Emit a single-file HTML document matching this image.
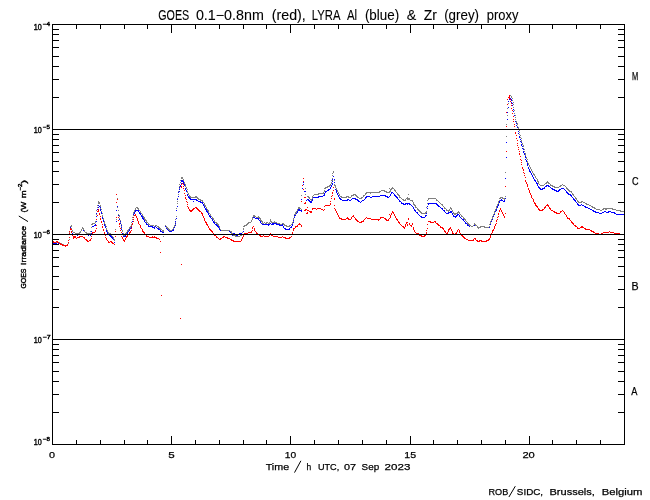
<!DOCTYPE html>
<html><head><meta charset="utf-8"><title>GOES / LYRA proxy</title>
<style>
html,body{margin:0;padding:0;background:#fff;}
body{width:650px;height:500px;overflow:hidden;font-family:"Liberation Sans",sans-serif;}
svg{display:block;}
text{font-family:"Liberation Sans",sans-serif;fill:#000;}
</style></head><body>
<svg width="650" height="500" viewBox="0 0 650 500">
<rect x="0" y="0" width="650" height="500" fill="#ffffff"/>
<path shape-rendering="crispEdges" fill="#0000ff" d="M510 98h1v1h-1zM509 99h3v1h-3zM511 100h1v1h-1zM508 101h1v1h-1zM511 102h1v1h-1zM512 103h1v1h-1zM512 105h1v1h-1zM508 107h1v1h-1zM513 107h1v1h-1zM513 109h1v1h-1zM513 111h1v1h-1zM507 112h1v1h-1zM514 113h1v1h-1zM514 115h1v1h-1zM515 117h1v1h-1zM507 119h1v1h-1zM515 119h1v1h-1zM515 121h1v1h-1zM516 123h1v1h-1zM516 125h1v1h-1zM517 126h1v1h-1zM517 127h1v1h-1zM517 129h1v1h-1zM518 131h1v1h-1zM518 133h1v1h-1zM519 134h1v1h-1zM519 136h1v1h-1zM519 137h1v1h-1zM520 139h1v1h-1zM520 141h1v1h-1zM506 142h1v1h-1zM521 142h1v1h-1zM521 144h1v1h-1zM521 145h1v1h-1zM522 146h1v1h-1zM522 148h1v1h-1zM523 149h1v1h-1zM523 151h1v1h-1zM523 152h1v1h-1zM524 153h1v1h-1zM524 154h1v1h-1zM525 156h1v1h-1zM506 157h1v1h-1zM525 157h1v1h-1zM525 159h1v1h-1zM526 160h1v1h-1zM526 161h1v1h-1zM527 163h1v1h-1zM527 164h1v1h-1zM527 165h1v1h-1zM528 167h1v1h-1zM528 168h1v1h-1zM529 169h1v1h-1zM529 170h1v1h-1zM529 171h2v1h-2zM530 172h1v1h-1zM531 173h1v1h-1zM531 174h1v1h-1zM532 175h1v1h-1zM333 176h1v1h-1zM532 176h1v1h-1zM533 177h1v1h-1zM505 178h1v1h-1zM533 178h1v1h-1zM332 179h1v1h-1zM334 179h1v1h-1zM534 179h1v1h-1zM181 180h2v1h-2zM534 180h2v1h-2zM181 181h3v1h-3zM332 181h1v1h-1zM535 181h1v1h-1zM183 182h1v1h-1zM303 182h1v1h-1zM334 182h1v1h-1zM536 182h1v1h-1zM181 183h1v1h-1zM183 183h1v1h-1zM332 183h1v1h-1zM536 183h2v1h-2zM184 184h1v1h-1zM303 184h1v1h-1zM332 184h1v1h-1zM334 184h1v1h-1zM537 184h1v1h-1zM180 185h1v1h-1zM184 185h1v1h-1zM331 185h1v1h-1zM334 185h1v1h-1zM537 185h1v1h-1zM546 185h3v1h-3zM180 186h1v1h-1zM185 186h1v1h-1zM331 186h1v1h-1zM538 186h1v1h-1zM545 186h2v1h-2zM548 186h2v1h-2zM179 187h1v1h-1zM330 187h1v1h-1zM335 187h1v1h-1zM538 187h2v1h-2zM544 187h1v1h-1zM550 187h1v1h-1zM185 188h1v1h-1zM302 188h1v1h-1zM330 188h1v1h-1zM539 188h2v1h-2zM542 188h3v1h-3zM551 188h2v1h-2zM561 188h3v1h-3zM179 189h1v1h-1zM185 189h1v1h-1zM328 189h2v1h-2zM335 189h1v1h-1zM540 189h3v1h-3zM552 189h3v1h-3zM559 189h2v1h-2zM564 189h1v1h-1zM186 190h1v1h-1zM327 190h2v1h-2zM336 190h1v1h-1zM554 190h3v1h-3zM558 190h2v1h-2zM565 190h1v1h-1zM179 191h1v1h-1zM186 191h1v1h-1zM304 191h2v1h-2zM325 191h2v1h-2zM336 191h1v1h-1zM556 191h3v1h-3zM566 191h1v1h-1zM178 192h1v1h-1zM187 192h1v1h-1zM325 192h1v1h-1zM336 192h1v1h-1zM391 192h2v1h-2zM566 192h2v1h-2zM324 193h1v1h-1zM337 193h1v1h-1zM391 193h1v1h-1zM393 193h1v1h-1zM567 193h2v1h-2zM187 194h1v1h-1zM324 194h1v1h-1zM337 194h1v1h-1zM390 194h1v1h-1zM394 194h1v1h-1zM568 194h3v1h-3zM187 195h1v1h-1zM323 195h2v1h-2zM338 195h1v1h-1zM380 195h6v1h-6zM390 195h1v1h-1zM394 195h2v1h-2zM570 195h2v1h-2zM178 196h1v1h-1zM188 196h1v1h-1zM318 196h5v1h-5zM338 196h1v1h-1zM366 196h4v1h-4zM372 196h8v1h-8zM385 196h3v1h-3zM389 196h1v1h-1zM395 196h2v1h-2zM571 196h1v1h-1zM188 197h2v1h-2zM305 197h1v1h-1zM313 197h6v1h-6zM339 197h1v1h-1zM365 197h2v1h-2zM370 197h2v1h-2zM387 197h2v1h-2zM396 197h2v1h-2zM572 197h1v1h-1zM189 198h2v1h-2zM312 198h1v1h-1zM339 198h2v1h-2zM352 198h4v1h-4zM365 198h1v1h-1zM397 198h1v1h-1zM505 198h1v1h-1zM573 198h1v1h-1zM177 199h1v1h-1zM190 199h7v1h-7zM301 199h1v1h-1zM307 199h2v1h-2zM312 199h1v1h-1zM340 199h2v1h-2zM347 199h2v1h-2zM351 199h1v1h-1zM355 199h3v1h-3zM364 199h1v1h-1zM398 199h1v1h-1zM501 199h1v1h-1zM504 199h1v1h-1zM573 199h2v1h-2zM196 200h2v1h-2zM306 200h1v1h-1zM308 200h2v1h-2zM312 200h1v1h-1zM342 200h6v1h-6zM349 200h2v1h-2zM357 200h2v1h-2zM362 200h2v1h-2zM399 200h1v1h-1zM500 200h3v1h-3zM504 200h1v1h-1zM574 200h2v1h-2zM193 201h1v1h-1zM198 201h3v1h-3zM309 201h3v1h-3zM358 201h2v1h-2zM361 201h1v1h-1zM399 201h2v1h-2zM499 201h1v1h-1zM503 201h2v1h-2zM575 201h1v1h-1zM200 202h3v1h-3zM310 202h2v1h-2zM360 202h1v1h-1zM401 202h1v1h-1zM499 202h1v1h-1zM576 202h1v1h-1zM177 203h1v1h-1zM202 203h1v1h-1zM401 203h3v1h-3zM405 203h5v1h-5zM428 203h9v1h-9zM498 203h1v1h-1zM577 203h1v1h-1zM203 204h1v1h-1zM403 204h3v1h-3zM407 204h1v1h-1zM409 204h2v1h-2zM428 204h1v1h-1zM436 204h2v1h-2zM498 204h1v1h-1zM577 204h2v1h-2zM581 204h1v1h-1zM98 205h1v1h-1zM203 205h1v1h-1zM411 205h1v1h-1zM437 205h2v1h-2zM498 205h1v1h-1zM578 205h3v1h-3zM582 205h2v1h-2zM99 206h1v1h-1zM117 206h1v1h-1zM177 206h1v1h-1zM204 206h1v1h-1zM412 206h1v1h-1zM427 206h1v1h-1zM438 206h2v1h-2zM497 206h1v1h-1zM584 206h2v1h-2zM98 207h1v1h-1zM100 207h1v1h-1zM204 207h1v1h-1zM413 207h1v1h-1zM440 207h1v1h-1zM497 207h1v1h-1zM585 207h3v1h-3zM205 208h1v1h-1zM413 208h1v1h-1zM427 208h1v1h-1zM441 208h2v1h-2zM496 208h1v1h-1zM588 208h2v1h-2zM97 209h1v1h-1zM100 209h1v1h-1zM205 209h2v1h-2zM298 209h2v1h-2zM414 209h1v1h-1zM442 209h1v1h-1zM496 209h1v1h-1zM590 209h2v1h-2zM100 210h1v1h-1zM116 210h1v1h-1zM135 210h4v1h-4zM176 210h1v1h-1zM206 210h1v1h-1zM298 210h4v1h-4zM414 210h2v1h-2zM443 210h2v1h-2zM496 210h1v1h-1zM592 210h2v1h-2zM97 211h1v1h-1zM135 211h1v1h-1zM138 211h1v1h-1zM206 211h2v1h-2zM297 211h1v1h-1zM301 211h1v1h-1zM415 211h1v1h-1zM426 211h1v1h-1zM444 211h1v1h-1zM450 211h2v1h-2zM495 211h1v1h-1zM593 211h3v1h-3zM604 211h2v1h-2zM608 211h3v1h-3zM101 212h1v1h-1zM134 212h1v1h-1zM139 212h1v1h-1zM207 212h1v1h-1zM297 212h1v1h-1zM416 212h2v1h-2zM445 212h1v1h-1zM448 212h4v1h-4zM494 212h1v1h-1zM595 212h4v1h-4zM602 212h2v1h-2zM606 212h3v1h-3zM611 212h4v1h-4zM96 213h1v1h-1zM101 213h1v1h-1zM134 213h1v1h-1zM139 213h2v1h-2zM208 213h1v1h-1zM296 213h1v1h-1zM417 213h1v1h-1zM426 213h1v1h-1zM446 213h3v1h-3zM452 213h1v1h-1zM494 213h1v1h-1zM599 213h3v1h-3zM614 213h2v1h-2zM133 214h1v1h-1zM140 214h1v1h-1zM208 214h1v1h-1zM295 214h1v1h-1zM418 214h1v1h-1zM452 214h1v1h-1zM457 214h2v1h-2zM494 214h1v1h-1zM616 214h8v1h-8zM102 215h1v1h-1zM118 215h1v1h-1zM133 215h1v1h-1zM141 215h1v1h-1zM209 215h1v1h-1zM294 215h2v1h-2zM419 215h1v1h-1zM425 215h2v1h-2zM453 215h1v1h-1zM456 215h2v1h-2zM459 215h1v1h-1zM493 215h1v1h-1zM96 216h1v1h-1zM119 216h1v1h-1zM141 216h2v1h-2zM209 216h2v1h-2zM253 216h1v1h-1zM420 216h2v1h-2zM425 216h1v1h-1zM453 216h4v1h-4zM459 216h1v1h-1zM493 216h1v1h-1zM102 217h1v1h-1zM133 217h1v1h-1zM142 217h1v1h-1zM210 217h1v1h-1zM253 217h2v1h-2zM294 217h1v1h-1zM421 217h4v1h-4zM455 217h1v1h-1zM460 217h1v1h-1zM492 217h1v1h-1zM102 218h1v1h-1zM119 218h1v1h-1zM142 218h2v1h-2zM176 218h1v1h-1zM211 218h1v1h-1zM252 218h1v1h-1zM255 218h4v1h-4zM293 218h1v1h-1zM461 218h1v1h-1zM492 218h1v1h-1zM119 219h1v1h-1zM132 219h1v1h-1zM143 219h1v1h-1zM212 219h1v1h-1zM252 219h1v1h-1zM258 219h1v1h-1zM462 219h2v1h-2zM492 219h1v1h-1zM103 220h1v1h-1zM144 220h1v1h-1zM212 220h1v1h-1zM259 220h1v1h-1zM293 220h1v1h-1zM463 220h1v1h-1zM491 220h1v1h-1zM96 221h1v1h-1zM103 221h1v1h-1zM116 221h1v1h-1zM120 221h1v1h-1zM132 221h1v1h-1zM144 221h1v1h-1zM175 221h1v1h-1zM213 221h1v1h-1zM260 221h1v1h-1zM464 221h1v1h-1zM491 221h1v1h-1zM145 222h1v1h-1zM213 222h2v1h-2zM260 222h1v1h-1zM274 222h1v1h-1zM293 222h1v1h-1zM465 222h1v1h-1zM490 222h1v1h-1zM104 223h1v1h-1zM120 223h1v1h-1zM146 223h1v1h-1zM175 223h1v1h-1zM214 223h1v1h-1zM261 223h1v1h-1zM270 223h1v1h-1zM272 223h5v1h-5zM465 223h2v1h-2zM490 223h1v1h-1zM95 224h1v1h-1zM104 224h1v1h-1zM131 224h1v1h-1zM146 224h2v1h-2zM215 224h2v1h-2zM262 224h8v1h-8zM271 224h3v1h-3zM276 224h4v1h-4zM282 224h1v1h-1zM292 224h1v1h-1zM467 224h1v1h-1zM474 224h1v1h-1zM490 224h1v1h-1zM94 225h2v1h-2zM104 225h1v1h-1zM121 225h1v1h-1zM148 225h1v1h-1zM175 225h1v1h-1zM216 225h2v1h-2zM268 225h1v1h-1zM279 225h4v1h-4zM292 225h1v1h-1zM467 225h2v1h-2zM474 225h1v1h-1zM92 226h2v1h-2zM105 226h1v1h-1zM131 226h1v1h-1zM148 226h5v1h-5zM154 226h2v1h-2zM165 226h1v1h-1zM174 226h1v1h-1zM217 226h2v1h-2zM283 226h1v1h-1zM291 226h1v1h-1zM469 226h1v1h-1zM489 226h1v1h-1zM70 227h1v1h-1zM105 227h1v1h-1zM121 227h1v1h-1zM130 227h2v1h-2zM152 227h3v1h-3zM156 227h1v1h-1zM166 227h1v1h-1zM174 227h1v1h-1zM218 227h1v1h-1zM283 227h1v1h-1zM290 227h2v1h-2zM487 227h3v1h-3zM106 228h1v1h-1zM130 228h1v1h-1zM154 228h1v1h-1zM157 228h2v1h-2zM166 228h2v1h-2zM173 228h1v1h-1zM219 228h1v1h-1zM284 228h2v1h-2zM289 228h1v1h-1zM70 229h1v1h-1zM83 229h1v1h-1zM121 229h1v1h-1zM129 229h1v1h-1zM158 229h2v1h-2zM167 229h2v1h-2zM173 229h1v1h-1zM219 229h2v1h-2zM243 229h1v1h-1zM285 229h5v1h-5zM83 230h2v1h-2zM106 230h1v1h-1zM129 230h1v1h-1zM160 230h1v1h-1zM168 230h2v1h-2zM172 230h2v1h-2zM220 230h1v1h-1zM91 231h1v1h-1zM106 231h1v1h-1zM122 231h1v1h-1zM128 231h1v1h-1zM160 231h3v1h-3zM169 231h3v1h-3zM229 231h1v1h-1zM243 231h1v1h-1zM80 232h1v1h-1zM107 232h1v1h-1zM127 232h1v1h-1zM162 232h2v1h-2zM230 232h2v1h-2zM242 232h1v1h-1zM72 233h1v1h-1zM91 233h1v1h-1zM107 233h2v1h-2zM122 233h1v1h-1zM126 233h2v1h-2zM231 233h4v1h-4zM239 233h3v1h-3zM108 234h1v1h-1zM123 234h1v1h-1zM126 234h1v1h-1zM234 234h3v1h-3zM238 234h2v1h-2zM77 235h1v1h-1zM88 235h1v1h-1zM90 235h1v1h-1zM109 235h2v1h-2zM123 235h1v1h-1zM125 235h1v1h-1zM232 235h1v1h-1zM236 235h2v1h-2zM73 236h1v1h-1zM110 236h2v1h-2zM123 236h3v1h-3zM69 237h1v1h-1zM111 237h2v1h-2zM112 238h2v1h-2zM113 239h1v1h-1zM114 240h1v1h-1zM56 242h2v1h-2zM114 242h1v1h-1zM52 243h5v1h-5zM58 243h1v1h-1z"/>
<path shape-rendering="crispEdges" fill="#808080" d="M510 95h1v1h-1zM511 96h1v1h-1zM511 97h1v1h-1zM509 98h1v1h-1zM512 98h1v1h-1zM512 100h1v1h-1zM513 102h1v1h-1zM508 103h1v1h-1zM513 104h1v1h-1zM513 107h1v1h-1zM507 108h1v1h-1zM514 110h1v1h-1zM514 113h1v1h-1zM507 115h1v1h-1zM515 115h1v1h-1zM515 117h1v1h-1zM515 119h1v1h-1zM516 121h1v1h-1zM516 122h1v1h-1zM517 123h1v1h-1zM506 124h1v1h-1zM517 124h1v1h-1zM517 126h1v1h-1zM518 127h1v1h-1zM518 128h1v1h-1zM519 130h1v1h-1zM519 132h1v1h-1zM519 134h1v1h-1zM520 135h1v1h-1zM506 136h1v1h-1zM520 137h1v1h-1zM521 138h1v1h-1zM521 140h1v1h-1zM521 141h1v1h-1zM522 143h1v1h-1zM522 144h1v1h-1zM523 145h1v1h-1zM523 146h1v1h-1zM523 148h1v1h-1zM524 149h1v1h-1zM524 151h1v1h-1zM525 153h1v1h-1zM525 154h1v1h-1zM525 155h1v1h-1zM526 157h1v1h-1zM526 158h1v1h-1zM527 159h1v1h-1zM527 161h1v1h-1zM527 162h1v1h-1zM528 163h1v1h-1zM528 164h1v1h-1zM529 165h1v1h-1zM529 166h1v1h-1zM530 167h1v1h-1zM530 168h1v1h-1zM531 169h1v1h-1zM531 170h1v1h-1zM333 171h1v1h-1zM532 171h1v1h-1zM333 172h1v1h-1zM505 172h1v1h-1zM532 172h1v1h-1zM332 173h1v1h-1zM533 173h1v1h-1zM533 174h2v1h-2zM332 175h1v1h-1zM534 175h1v1h-1zM535 176h1v1h-1zM181 177h2v1h-2zM535 177h1v1h-1zM181 178h2v1h-2zM332 178h1v1h-1zM536 178h1v1h-1zM183 179h1v1h-1zM537 179h1v1h-1zM180 180h1v1h-1zM183 180h1v1h-1zM331 180h2v1h-2zM334 180h1v1h-1zM537 180h1v1h-1zM537 181h2v1h-2zM547 181h1v1h-1zM180 182h1v1h-1zM184 182h1v1h-1zM331 182h1v1h-1zM538 182h1v1h-1zM546 182h3v1h-3zM184 183h1v1h-1zM331 183h1v1h-1zM538 183h1v1h-1zM545 183h2v1h-2zM548 183h2v1h-2zM179 184h1v1h-1zM185 184h1v1h-1zM330 184h1v1h-1zM334 184h1v1h-1zM539 184h1v1h-1zM544 184h1v1h-1zM550 184h1v1h-1zM562 184h1v1h-1zM185 185h1v1h-1zM329 185h2v1h-2zM334 185h2v1h-2zM540 185h4v1h-4zM550 185h3v1h-3zM560 185h2v1h-2zM563 185h2v1h-2zM179 186h1v1h-1zM185 186h1v1h-1zM327 186h3v1h-3zM335 186h1v1h-1zM552 186h3v1h-3zM559 186h2v1h-2zM565 186h1v1h-1zM186 187h1v1h-1zM325 187h3v1h-3zM335 187h1v1h-1zM392 187h1v1h-1zM554 187h5v1h-5zM566 187h1v1h-1zM179 188h1v1h-1zM186 188h1v1h-1zM305 188h1v1h-1zM324 188h2v1h-2zM336 188h1v1h-1zM389 188h1v1h-1zM391 188h3v1h-3zM566 188h2v1h-2zM187 189h1v1h-1zM336 189h1v1h-1zM390 189h2v1h-2zM394 189h1v1h-1zM567 189h2v1h-2zM324 190h1v1h-1zM337 190h1v1h-1zM381 190h4v1h-4zM390 190h1v1h-1zM394 190h2v1h-2zM568 190h2v1h-2zM178 191h1v1h-1zM187 191h1v1h-1zM324 191h1v1h-1zM337 191h1v1h-1zM379 191h2v1h-2zM384 191h3v1h-3zM389 191h2v1h-2zM395 191h1v1h-1zM569 191h3v1h-3zM187 192h1v1h-1zM323 192h1v1h-1zM338 192h1v1h-1zM366 192h14v1h-14zM386 192h4v1h-4zM396 192h1v1h-1zM571 192h1v1h-1zM188 193h1v1h-1zM318 193h6v1h-6zM338 193h1v1h-1zM365 193h2v1h-2zM370 193h1v1h-1zM397 193h1v1h-1zM572 193h1v1h-1zM178 194h1v1h-1zM188 194h1v1h-1zM305 194h1v1h-1zM314 194h5v1h-5zM339 194h1v1h-1zM353 194h3v1h-3zM365 194h1v1h-1zM397 194h2v1h-2zM408 194h1v1h-1zM572 194h2v1h-2zM189 195h1v1h-1zM301 195h1v1h-1zM313 195h1v1h-1zM339 195h1v1h-1zM351 195h3v1h-3zM355 195h2v1h-2zM363 195h2v1h-2zM398 195h2v1h-2zM573 195h1v1h-1zM189 196h2v1h-2zM195 196h2v1h-2zM307 196h2v1h-2zM312 196h1v1h-1zM340 196h2v1h-2zM346 196h3v1h-3zM351 196h1v1h-1zM356 196h2v1h-2zM363 196h1v1h-1zM399 196h1v1h-1zM505 196h1v1h-1zM574 196h1v1h-1zM190 197h8v1h-8zM308 197h2v1h-2zM312 197h1v1h-1zM341 197h6v1h-6zM348 197h3v1h-3zM357 197h2v1h-2zM361 197h2v1h-2zM399 197h2v1h-2zM407 197h1v1h-1zM500 197h3v1h-3zM575 197h1v1h-1zM117 198h1v1h-1zM177 198h1v1h-1zM197 198h2v1h-2zM309 198h1v1h-1zM312 198h1v1h-1zM359 198h3v1h-3zM401 198h1v1h-1zM406 198h4v1h-4zM428 198h8v1h-8zM499 198h2v1h-2zM502 198h3v1h-3zM575 198h2v1h-2zM198 199h3v1h-3zM310 199h2v1h-2zM402 199h2v1h-2zM405 199h1v1h-1zM407 199h3v1h-3zM428 199h1v1h-1zM436 199h1v1h-1zM504 199h1v1h-1zM576 199h1v1h-1zM200 200h3v1h-3zM311 200h1v1h-1zM403 200h3v1h-3zM410 200h3v1h-3zM427 200h1v1h-1zM436 200h2v1h-2zM499 200h1v1h-1zM577 200h1v1h-1zM98 201h1v1h-1zM177 201h1v1h-1zM202 201h1v1h-1zM412 201h1v1h-1zM438 201h1v1h-1zM498 201h1v1h-1zM577 201h2v1h-2zM581 201h2v1h-2zM98 202h2v1h-2zM203 202h1v1h-1zM413 202h1v1h-1zM439 202h1v1h-1zM498 202h1v1h-1zM578 202h4v1h-4zM583 202h2v1h-2zM98 203h2v1h-2zM177 203h1v1h-1zM204 203h1v1h-1zM413 203h1v1h-1zM427 203h1v1h-1zM440 203h1v1h-1zM498 203h1v1h-1zM585 203h2v1h-2zM204 204h1v1h-1zM413 204h2v1h-2zM441 204h2v1h-2zM497 204h1v1h-1zM586 204h3v1h-3zM97 205h1v1h-1zM100 205h1v1h-1zM204 205h2v1h-2zM414 205h2v1h-2zM442 205h1v1h-1zM497 205h1v1h-1zM589 205h2v1h-2zM100 206h1v1h-1zM205 206h1v1h-1zM415 206h1v1h-1zM443 206h1v1h-1zM496 206h1v1h-1zM591 206h2v1h-2zM97 207h1v1h-1zM117 207h1v1h-1zM136 207h2v1h-2zM206 207h1v1h-1zM298 207h2v1h-2zM415 207h2v1h-2zM426 207h1v1h-1zM444 207h1v1h-1zM450 207h1v1h-1zM496 207h1v1h-1zM592 207h3v1h-3zM100 208h1v1h-1zM135 208h1v1h-1zM137 208h2v1h-2zM176 208h1v1h-1zM206 208h1v1h-1zM298 208h3v1h-3zM417 208h1v1h-1zM444 208h2v1h-2zM450 208h2v1h-2zM496 208h1v1h-1zM594 208h2v1h-2zM603 208h10v1h-10zM101 209h1v1h-1zM135 209h1v1h-1zM138 209h1v1h-1zM207 209h1v1h-1zM297 209h1v1h-1zM301 209h1v1h-1zM417 209h2v1h-2zM446 209h1v1h-1zM449 209h1v1h-1zM451 209h1v1h-1zM495 209h1v1h-1zM596 209h4v1h-4zM602 209h2v1h-2zM605 209h2v1h-2zM612 209h4v1h-4zM96 210h1v1h-1zM118 210h1v1h-1zM134 210h1v1h-1zM139 210h1v1h-1zM207 210h2v1h-2zM297 210h1v1h-1zM418 210h2v1h-2zM446 210h4v1h-4zM452 210h1v1h-1zM495 210h1v1h-1zM600 210h2v1h-2zM616 210h5v1h-5zM101 211h1v1h-1zM134 211h1v1h-1zM140 211h1v1h-1zM208 211h1v1h-1zM296 211h1v1h-1zM419 211h2v1h-2zM426 211h1v1h-1zM448 211h1v1h-1zM452 211h1v1h-1zM458 211h1v1h-1zM494 211h1v1h-1zM620 211h4v1h-4zM133 212h1v1h-1zM140 212h1v1h-1zM208 212h1v1h-1zM295 212h2v1h-2zM420 212h2v1h-2zM425 212h2v1h-2zM453 212h1v1h-1zM457 212h3v1h-3zM494 212h1v1h-1zM102 213h1v1h-1zM133 213h1v1h-1zM141 213h1v1h-1zM209 213h1v1h-1zM295 213h1v1h-1zM421 213h5v1h-5zM453 213h5v1h-5zM459 213h1v1h-1zM494 213h1v1h-1zM96 214h1v1h-1zM118 214h1v1h-1zM142 214h1v1h-1zM210 214h1v1h-1zM294 214h2v1h-2zM454 214h2v1h-2zM460 214h1v1h-1zM493 214h1v1h-1zM102 215h1v1h-1zM119 215h1v1h-1zM133 215h1v1h-1zM142 215h1v1h-1zM210 215h1v1h-1zM253 215h2v1h-2zM461 215h1v1h-1zM493 215h1v1h-1zM102 216h1v1h-1zM119 216h1v1h-1zM143 216h1v1h-1zM176 216h1v1h-1zM211 216h1v1h-1zM253 216h3v1h-3zM258 216h1v1h-1zM294 216h1v1h-1zM461 216h2v1h-2zM492 216h1v1h-1zM132 217h1v1h-1zM143 217h2v1h-2zM212 217h1v1h-1zM252 217h1v1h-1zM256 217h4v1h-4zM463 217h1v1h-1zM492 217h1v1h-1zM103 218h1v1h-1zM119 218h1v1h-1zM144 218h1v1h-1zM212 218h2v1h-2zM252 218h1v1h-1zM259 218h2v1h-2zM293 218h1v1h-1zM463 218h2v1h-2zM492 218h1v1h-1zM96 219h1v1h-1zM103 219h1v1h-1zM116 219h1v1h-1zM132 219h1v1h-1zM144 219h2v1h-2zM175 219h1v1h-1zM213 219h1v1h-1zM252 219h1v1h-1zM260 219h1v1h-1zM270 219h1v1h-1zM293 219h1v1h-1zM464 219h2v1h-2zM491 219h1v1h-1zM120 220h1v1h-1zM145 220h2v1h-2zM214 220h1v1h-1zM251 220h1v1h-1zM260 220h2v1h-2zM270 220h1v1h-1zM465 220h1v1h-1zM491 220h1v1h-1zM95 221h1v1h-1zM104 221h1v1h-1zM146 221h1v1h-1zM214 221h1v1h-1zM251 221h1v1h-1zM261 221h2v1h-2zM270 221h2v1h-2zM274 221h1v1h-1zM293 221h1v1h-1zM466 221h1v1h-1zM490 221h1v1h-1zM95 222h1v1h-1zM104 222h1v1h-1zM120 222h1v1h-1zM131 222h1v1h-1zM146 222h2v1h-2zM175 222h1v1h-1zM215 222h2v1h-2zM248 222h3v1h-3zM262 222h1v1h-1zM264 222h1v1h-1zM266 222h2v1h-2zM269 222h1v1h-1zM271 222h6v1h-6zM292 222h1v1h-1zM467 222h1v1h-1zM490 222h1v1h-1zM92 223h3v1h-3zM104 223h1v1h-1zM148 223h1v1h-1zM216 223h2v1h-2zM247 223h2v1h-2zM262 223h2v1h-2zM265 223h2v1h-2zM268 223h2v1h-2zM277 223h3v1h-3zM282 223h2v1h-2zM292 223h1v1h-1zM467 223h2v1h-2zM474 223h1v1h-1zM490 223h1v1h-1zM91 224h2v1h-2zM105 224h1v1h-1zM121 224h1v1h-1zM131 224h1v1h-1zM148 224h2v1h-2zM175 224h1v1h-1zM217 224h2v1h-2zM246 224h2v1h-2zM280 224h2v1h-2zM283 224h2v1h-2zM291 224h1v1h-1zM468 224h2v1h-2zM474 224h2v1h-2zM489 224h1v1h-1zM71 225h1v1h-1zM105 225h1v1h-1zM131 225h1v1h-1zM150 225h4v1h-4zM155 225h2v1h-2zM165 225h1v1h-1zM174 225h1v1h-1zM218 225h1v1h-1zM244 225h3v1h-3zM284 225h3v1h-3zM289 225h2v1h-2zM469 225h2v1h-2zM473 225h1v1h-1zM475 225h2v1h-2zM70 226h2v1h-2zM106 226h1v1h-1zM121 226h1v1h-1zM130 226h1v1h-1zM154 226h1v1h-1zM157 226h2v1h-2zM166 226h1v1h-1zM174 226h1v1h-1zM219 226h1v1h-1zM243 226h2v1h-2zM286 226h4v1h-4zM471 226h2v1h-2zM477 226h1v1h-1zM480 226h5v1h-5zM489 226h1v1h-1zM82 227h1v1h-1zM91 227h1v1h-1zM129 227h2v1h-2zM158 227h2v1h-2zM166 227h2v1h-2zM173 227h1v1h-1zM219 227h1v1h-1zM477 227h4v1h-4zM484 227h5v1h-5zM70 228h2v1h-2zM82 228h2v1h-2zM106 228h1v1h-1zM121 228h1v1h-1zM129 228h1v1h-1zM159 228h2v1h-2zM167 228h2v1h-2zM173 228h1v1h-1zM243 228h1v1h-1zM478 228h1v1h-1zM81 229h1v1h-1zM83 229h1v1h-1zM106 229h1v1h-1zM115 229h1v1h-1zM128 229h1v1h-1zM160 229h2v1h-2zM168 229h2v1h-2zM172 229h1v1h-1zM220 229h1v1h-1zM243 229h1v1h-1zM72 230h1v1h-1zM81 230h1v1h-1zM84 230h1v1h-1zM107 230h1v1h-1zM122 230h1v1h-1zM127 230h2v1h-2zM162 230h2v1h-2zM169 230h3v1h-3zM221 230h9v1h-9zM72 231h1v1h-1zM80 231h1v1h-1zM84 231h1v1h-1zM90 231h1v1h-1zM107 231h1v1h-1zM122 231h1v1h-1zM127 231h1v1h-1zM162 231h2v1h-2zM230 231h2v1h-2zM69 232h1v1h-1zM73 232h2v1h-2zM79 232h2v1h-2zM85 232h2v1h-2zM108 232h1v1h-1zM126 232h1v1h-1zM231 232h1v1h-1zM242 232h1v1h-1zM75 233h5v1h-5zM86 233h5v1h-5zM108 233h3v1h-3zM123 233h1v1h-1zM125 233h2v1h-2zM231 233h2v1h-2zM88 234h2v1h-2zM110 234h2v1h-2zM123 234h1v1h-1zM125 234h1v1h-1zM232 234h1v1h-1zM241 234h2v1h-2zM111 235h1v1h-1zM123 235h2v1h-2zM233 235h3v1h-3zM240 235h2v1h-2zM112 236h1v1h-1zM163 236h1v1h-1zM235 236h5v1h-5zM69 237h1v1h-1zM113 237h1v1h-1zM113 238h1v1h-1zM69 239h1v1h-1zM114 239h1v1h-1zM114 240h1v1h-1zM56 241h2v1h-2zM52 242h5v1h-5zM58 242h2v1h-2zM68 242h1v1h-1zM59 243h3v1h-3zM68 243h1v1h-1zM61 244h3v1h-3zM67 244h1v1h-1zM63 245h2v1h-2zM66 245h2v1h-2zM65 246h1v1h-1z"/>
<path shape-rendering="crispEdges" fill="#ff0000" d="M509 95h1v1h-1zM509 96h1v1h-1zM508 97h2v1h-2zM509 98h1v1h-1zM507 99h1v1h-1zM510 99h1v1h-1zM510 101h1v1h-1zM511 103h1v1h-1zM507 104h1v1h-1zM511 105h1v1h-1zM511 108h1v1h-1zM512 110h1v1h-1zM506 112h1v1h-1zM512 113h1v1h-1zM513 116h1v1h-1zM513 119h1v1h-1zM513 121h1v1h-1zM514 124h1v1h-1zM506 126h1v1h-1zM514 126h1v1h-1zM515 129h1v1h-1zM515 132h1v1h-1zM515 133h1v1h-1zM516 135h1v1h-1zM516 138h1v1h-1zM517 140h1v1h-1zM517 143h1v1h-1zM517 145h1v1h-1zM518 147h1v1h-1zM518 149h1v1h-1zM506 151h1v1h-1zM519 151h1v1h-1zM519 153h1v1h-1zM519 154h1v1h-1zM520 156h1v1h-1zM520 159h1v1h-1zM521 160h1v1h-1zM521 162h1v1h-1zM521 164h1v1h-1zM522 167h1v1h-1zM522 168h1v1h-1zM523 169h1v1h-1zM523 170h1v1h-1zM523 172h1v1h-1zM524 173h1v1h-1zM524 175h1v1h-1zM525 177h1v1h-1zM303 178h1v1h-1zM525 180h1v1h-1zM303 181h1v1h-1zM525 181h1v1h-1zM526 182h1v1h-1zM182 183h1v1h-1zM526 183h1v1h-1zM181 184h1v1h-1zM183 184h1v1h-1zM527 184h1v1h-1zM302 185h1v1h-1zM527 185h1v1h-1zM181 186h1v1h-1zM183 186h1v1h-1zM505 186h1v1h-1zM527 186h1v1h-1zM181 187h1v1h-1zM333 187h1v1h-1zM183 188h1v1h-1zM528 188h1v1h-1zM303 189h1v1h-1zM528 189h1v1h-1zM184 190h1v1h-1zM333 190h1v1h-1zM529 190h1v1h-1zM529 191h1v1h-1zM332 192h1v1h-1zM529 192h1v1h-1zM184 193h1v1h-1zM332 193h1v1h-1zM530 193h1v1h-1zM116 194h1v1h-1zM530 194h1v1h-1zM185 195h1v1h-1zM332 195h1v1h-1zM531 195h1v1h-1zM331 196h1v1h-1zM531 196h1v1h-1zM185 197h1v1h-1zM304 197h2v1h-2zM531 197h1v1h-1zM185 198h1v1h-1zM331 198h1v1h-1zM334 198h1v1h-1zM532 198h1v1h-1zM117 199h1v1h-1zM186 199h1v1h-1zM334 199h1v1h-1zM533 199h1v1h-1zM533 200h1v1h-1zM186 201h1v1h-1zM301 201h1v1h-1zM330 201h1v1h-1zM533 201h1v1h-1zM116 202h1v1h-1zM187 202h1v1h-1zM305 202h1v1h-1zM534 202h1v1h-1zM304 203h2v1h-2zM330 203h1v1h-1zM534 203h2v1h-2zM187 204h1v1h-1zM330 204h1v1h-1zM535 204h1v1h-1zM547 204h1v1h-1zM325 205h5v1h-5zM334 205h1v1h-1zM535 205h2v1h-2zM546 205h3v1h-3zM187 206h1v1h-1zM324 206h1v1h-1zM536 206h2v1h-2zM545 206h1v1h-1zM548 206h1v1h-1zM188 207h1v1h-1zM195 207h2v1h-2zM307 207h1v1h-1zM537 207h1v1h-1zM544 207h2v1h-2zM549 207h1v1h-1zM188 208h1v1h-1zM193 208h2v1h-2zM196 208h2v1h-2zM312 208h4v1h-4zM317 208h4v1h-4zM334 208h1v1h-1zM500 208h1v1h-1zM538 208h1v1h-1zM544 208h1v1h-1zM549 208h2v1h-2zM98 209h1v1h-1zM189 209h1v1h-1zM192 209h2v1h-2zM197 209h2v1h-2zM305 209h2v1h-2zM312 209h1v1h-1zM316 209h1v1h-1zM321 209h2v1h-2zM324 209h1v1h-1zM335 209h1v1h-1zM500 209h1v1h-1zM538 209h2v1h-2zM542 209h2v1h-2zM550 209h1v1h-1zM98 210h1v1h-1zM189 210h4v1h-4zM198 210h2v1h-2zM304 210h2v1h-2zM307 210h2v1h-2zM323 210h1v1h-1zM335 210h1v1h-1zM499 210h1v1h-1zM501 210h1v1h-1zM539 210h4v1h-4zM551 210h2v1h-2zM562 210h1v1h-1zM97 211h2v1h-2zM190 211h2v1h-2zM199 211h2v1h-2zM309 211h3v1h-3zM336 211h1v1h-1zM392 211h1v1h-1zM499 211h1v1h-1zM501 211h1v1h-1zM553 211h2v1h-2zM560 211h2v1h-2zM563 211h1v1h-1zM201 212h1v1h-1zM307 212h1v1h-1zM310 212h2v1h-2zM336 212h1v1h-1zM392 212h2v1h-2zM502 212h1v1h-1zM554 212h3v1h-3zM560 212h1v1h-1zM564 212h1v1h-1zM99 213h1v1h-1zM201 213h2v1h-2zM306 213h2v1h-2zM337 213h1v1h-1zM391 213h1v1h-1zM393 213h1v1h-1zM498 213h1v1h-1zM502 213h1v1h-1zM505 213h1v1h-1zM556 213h4v1h-4zM564 213h1v1h-1zM99 214h1v1h-1zM135 214h1v1h-1zM202 214h1v1h-1zM337 214h1v1h-1zM389 214h1v1h-1zM391 214h1v1h-1zM394 214h1v1h-1zM498 214h1v1h-1zM503 214h1v1h-1zM565 214h1v1h-1zM97 215h1v1h-1zM134 215h2v1h-2zM202 215h1v1h-1zM338 215h1v1h-1zM353 215h1v1h-1zM390 215h1v1h-1zM394 215h1v1h-1zM503 215h1v1h-1zM566 215h1v1h-1zM100 216h1v1h-1zM136 216h1v1h-1zM203 216h1v1h-1zM338 216h1v1h-1zM352 216h2v1h-2zM390 216h1v1h-1zM395 216h1v1h-1zM498 216h1v1h-1zM504 216h1v1h-1zM566 216h1v1h-1zM116 217h1v1h-1zM118 217h1v1h-1zM133 217h1v1h-1zM136 217h1v1h-1zM203 217h1v1h-1zM339 217h1v1h-1zM347 217h1v1h-1zM351 217h1v1h-1zM354 217h1v1h-1zM366 217h1v1h-1zM380 217h4v1h-4zM390 217h1v1h-1zM395 217h1v1h-1zM497 217h1v1h-1zM504 217h1v1h-1zM567 217h1v1h-1zM100 218h1v1h-1zM137 218h1v1h-1zM204 218h1v1h-1zM339 218h3v1h-3zM346 218h3v1h-3zM351 218h1v1h-1zM355 218h1v1h-1zM365 218h1v1h-1zM367 218h4v1h-4zM380 218h1v1h-1zM384 218h2v1h-2zM389 218h1v1h-1zM396 218h1v1h-1zM408 218h1v1h-1zM567 218h3v1h-3zM96 219h1v1h-1zM100 219h1v1h-1zM133 219h1v1h-1zM137 219h1v1h-1zM204 219h1v1h-1zM341 219h5v1h-5zM348 219h3v1h-3zM355 219h2v1h-2zM364 219h1v1h-1zM371 219h9v1h-9zM385 219h2v1h-2zM388 219h1v1h-1zM396 219h2v1h-2zM408 219h1v1h-1zM497 219h1v1h-1zM569 219h1v1h-1zM118 220h1v1h-1zM137 220h1v1h-1zM204 220h1v1h-1zM356 220h2v1h-2zM363 220h1v1h-1zM378 220h1v1h-1zM386 220h3v1h-3zM397 220h1v1h-1zM496 220h1v1h-1zM570 220h1v1h-1zM101 221h1v1h-1zM133 221h1v1h-1zM138 221h1v1h-1zM205 221h1v1h-1zM357 221h2v1h-2zM361 221h3v1h-3zM398 221h1v1h-1zM428 221h3v1h-3zM434 221h2v1h-2zM496 221h1v1h-1zM571 221h1v1h-1zM101 222h1v1h-1zM138 222h1v1h-1zM205 222h2v1h-2zM359 222h3v1h-3zM398 222h2v1h-2zM406 222h2v1h-2zM430 222h4v1h-4zM435 222h1v1h-1zM571 222h2v1h-2zM119 223h1v1h-1zM132 223h1v1h-1zM138 223h1v1h-1zM206 223h1v1h-1zM299 223h1v1h-1zM399 223h1v1h-1zM406 223h1v1h-1zM409 223h1v1h-1zM412 223h1v1h-1zM436 223h2v1h-2zM496 223h1v1h-1zM572 223h2v1h-2zM102 224h1v1h-1zM119 224h1v1h-1zM132 224h1v1h-1zM139 224h1v1h-1zM206 224h2v1h-2zM298 224h3v1h-3zM400 224h1v1h-1zM405 224h1v1h-1zM407 224h1v1h-1zM409 224h1v1h-1zM412 224h1v1h-1zM427 224h1v1h-1zM437 224h2v1h-2zM495 224h1v1h-1zM573 224h1v1h-1zM96 225h1v1h-1zM140 225h1v1h-1zM207 225h1v1h-1zM297 225h1v1h-1zM301 225h1v1h-1zM401 225h1v1h-1zM405 225h1v1h-1zM407 225h1v1h-1zM410 225h2v1h-2zM438 225h2v1h-2zM495 225h1v1h-1zM574 225h2v1h-2zM102 226h1v1h-1zM119 226h1v1h-1zM131 226h1v1h-1zM140 226h1v1h-1zM208 226h1v1h-1zM253 226h1v1h-1zM295 226h3v1h-3zM301 226h1v1h-1zM402 226h2v1h-2zM405 226h1v1h-1zM411 226h1v1h-1zM440 226h1v1h-1zM494 226h1v1h-1zM575 226h2v1h-2zM581 226h2v1h-2zM102 227h1v1h-1zM140 227h1v1h-1zM208 227h1v1h-1zM252 227h1v1h-1zM295 227h1v1h-1zM403 227h2v1h-2zM413 227h1v1h-1zM440 227h3v1h-3zM450 227h1v1h-1zM494 227h1v1h-1zM577 227h1v1h-1zM580 227h4v1h-4zM70 228h1v1h-1zM96 228h1v1h-1zM120 228h1v1h-1zM131 228h1v1h-1zM141 228h1v1h-1zM209 228h1v1h-1zM252 228h1v1h-1zM254 228h1v1h-1zM293 228h2v1h-2zM404 228h1v1h-1zM413 228h1v1h-1zM427 228h1v1h-1zM442 228h2v1h-2zM449 228h2v1h-2zM494 228h1v1h-1zM577 228h3v1h-3zM584 228h2v1h-2zM70 229h2v1h-2zM103 229h1v1h-1zM142 229h1v1h-1zM209 229h2v1h-2zM254 229h1v1h-1zM293 229h1v1h-1zM413 229h1v1h-1zM443 229h1v1h-1zM448 229h2v1h-2zM451 229h1v1h-1zM458 229h1v1h-1zM493 229h1v1h-1zM585 229h5v1h-5zM95 230h1v1h-1zM103 230h1v1h-1zM120 230h1v1h-1zM131 230h1v1h-1zM142 230h1v1h-1zM210 230h2v1h-2zM252 230h1v1h-1zM254 230h1v1h-1zM293 230h1v1h-1zM414 230h1v1h-1zM426 230h1v1h-1zM444 230h1v1h-1zM448 230h1v1h-1zM451 230h1v1h-1zM457 230h1v1h-1zM459 230h1v1h-1zM492 230h2v1h-2zM590 230h2v1h-2zM69 231h1v1h-1zM71 231h1v1h-1zM95 231h1v1h-1zM115 231h1v1h-1zM130 231h1v1h-1zM142 231h2v1h-2zM211 231h2v1h-2zM251 231h1v1h-1zM255 231h1v1h-1zM414 231h1v1h-1zM444 231h2v1h-2zM448 231h1v1h-1zM452 231h1v1h-1zM457 231h1v1h-1zM459 231h1v1h-1zM492 231h1v1h-1zM591 231h3v1h-3zM609 231h1v1h-1zM71 232h1v1h-1zM92 232h3v1h-3zM104 232h1v1h-1zM121 232h1v1h-1zM129 232h2v1h-2zM143 232h2v1h-2zM212 232h1v1h-1zM248 232h4v1h-4zM256 232h1v1h-1zM292 232h1v1h-1zM415 232h1v1h-1zM426 232h1v1h-1zM445 232h1v1h-1zM447 232h1v1h-1zM452 232h1v1h-1zM456 232h1v1h-1zM459 232h1v1h-1zM492 232h1v1h-1zM593 232h2v1h-2zM603 232h6v1h-6zM610 232h4v1h-4zM69 233h1v1h-1zM92 233h1v1h-1zM104 233h1v1h-1zM129 233h1v1h-1zM144 233h1v1h-1zM213 233h1v1h-1zM244 233h4v1h-4zM256 233h2v1h-2zM270 233h1v1h-1zM292 233h1v1h-1zM416 233h3v1h-3zM426 233h1v1h-1zM446 233h2v1h-2zM452 233h2v1h-2zM455 233h2v1h-2zM460 233h1v1h-1zM491 233h1v1h-1zM595 233h4v1h-4zM601 233h2v1h-2zM614 233h6v1h-6zM72 234h1v1h-1zM104 234h1v1h-1zM121 234h1v1h-1zM128 234h1v1h-1zM145 234h2v1h-2zM214 234h1v1h-1zM243 234h1v1h-1zM258 234h1v1h-1zM270 234h2v1h-2zM291 234h1v1h-1zM419 234h1v1h-1zM453 234h3v1h-3zM460 234h2v1h-2zM491 234h1v1h-1zM598 234h3v1h-3zM72 235h1v1h-1zM105 235h1v1h-1zM127 235h1v1h-1zM146 235h1v1h-1zM214 235h2v1h-2zM243 235h1v1h-1zM259 235h2v1h-2zM263 235h1v1h-1zM269 235h1v1h-1zM271 235h2v1h-2zM419 235h3v1h-3zM424 235h2v1h-2zM461 235h2v1h-2zM490 235h1v1h-1zM73 236h3v1h-3zM79 236h4v1h-4zM91 236h1v1h-1zM115 236h1v1h-1zM121 236h1v1h-1zM126 236h2v1h-2zM146 236h3v1h-3zM152 236h1v1h-1zM154 236h1v1h-1zM216 236h1v1h-1zM223 236h2v1h-2zM243 236h1v1h-1zM260 236h3v1h-3zM264 236h5v1h-5zM273 236h5v1h-5zM282 236h1v1h-1zM291 236h1v1h-1zM421 236h4v1h-4zM462 236h2v1h-2zM490 236h1v1h-1zM69 237h1v1h-1zM73 237h3v1h-3zM77 237h3v1h-3zM83 237h2v1h-2zM105 237h1v1h-1zM122 237h1v1h-1zM126 237h1v1h-1zM149 237h8v1h-8zM216 237h2v1h-2zM222 237h2v1h-2zM225 237h3v1h-3zM242 237h1v1h-1zM278 237h4v1h-4zM283 237h3v1h-3zM289 237h2v1h-2zM463 237h2v1h-2zM490 237h1v1h-1zM73 238h1v1h-1zM76 238h1v1h-1zM84 238h1v1h-1zM91 238h1v1h-1zM106 238h1v1h-1zM122 238h1v1h-1zM125 238h1v1h-1zM156 238h3v1h-3zM218 238h1v1h-1zM220 238h2v1h-2zM227 238h3v1h-3zM242 238h1v1h-1zM285 238h5v1h-5zM464 238h2v1h-2zM474 238h2v1h-2zM489 238h1v1h-1zM85 239h2v1h-2zM90 239h1v1h-1zM106 239h1v1h-1zM123 239h1v1h-1zM125 239h1v1h-1zM159 239h1v1h-1zM219 239h2v1h-2zM230 239h2v1h-2zM241 239h1v1h-1zM466 239h2v1h-2zM473 239h1v1h-1zM475 239h1v1h-1zM488 239h2v1h-2zM68 240h1v1h-1zM86 240h2v1h-2zM89 240h2v1h-2zM107 240h1v1h-1zM123 240h2v1h-2zM231 240h3v1h-3zM241 240h1v1h-1zM468 240h6v1h-6zM476 240h2v1h-2zM479 240h3v1h-3zM486 240h3v1h-3zM52 241h2v1h-2zM56 241h2v1h-2zM87 241h2v1h-2zM108 241h1v1h-1zM110 241h2v1h-2zM124 241h1v1h-1zM160 241h1v1h-1zM233 241h8v1h-8zM477 241h3v1h-3zM481 241h6v1h-6zM53 242h3v1h-3zM57 242h2v1h-2zM68 242h1v1h-1zM108 242h2v1h-2zM111 242h2v1h-2zM59 243h2v1h-2zM112 243h2v1h-2zM60 244h3v1h-3zM67 244h1v1h-1zM114 244h1v1h-1zM62 245h6v1h-6zM65 246h1v1h-1zM160 252h1v1h-1zM181 264h1v1h-1zM161 295h1v1h-1zM180 318h1v1h-1z"/>
<g shape-rendering="crispEdges" fill="#000">
<rect x="52" y="24" width="573" height="1"/><rect x="52" y="444" width="573" height="1"/><rect x="52" y="24" width="1" height="421"/><rect x="624" y="24" width="1" height="421"/><rect x="52" y="129" width="573" height="1"/><rect x="52" y="234" width="573" height="1"/><rect x="52" y="339" width="573" height="1"/><rect x="52" y="436" width="1" height="9"/><rect x="52" y="24" width="1" height="9"/><rect x="76" y="440" width="1" height="5"/><rect x="76" y="24" width="1" height="5"/><rect x="100" y="440" width="1" height="5"/><rect x="100" y="24" width="1" height="5"/><rect x="124" y="440" width="1" height="5"/><rect x="124" y="24" width="1" height="5"/><rect x="147" y="440" width="1" height="5"/><rect x="147" y="24" width="1" height="5"/><rect x="171" y="436" width="1" height="9"/><rect x="171" y="24" width="1" height="9"/><rect x="195" y="440" width="1" height="5"/><rect x="195" y="24" width="1" height="5"/><rect x="219" y="440" width="1" height="5"/><rect x="219" y="24" width="1" height="5"/><rect x="243" y="440" width="1" height="5"/><rect x="243" y="24" width="1" height="5"/><rect x="266" y="440" width="1" height="5"/><rect x="266" y="24" width="1" height="5"/><rect x="290" y="436" width="1" height="9"/><rect x="290" y="24" width="1" height="9"/><rect x="314" y="440" width="1" height="5"/><rect x="314" y="24" width="1" height="5"/><rect x="338" y="440" width="1" height="5"/><rect x="338" y="24" width="1" height="5"/><rect x="362" y="440" width="1" height="5"/><rect x="362" y="24" width="1" height="5"/><rect x="386" y="440" width="1" height="5"/><rect x="386" y="24" width="1" height="5"/><rect x="410" y="436" width="1" height="9"/><rect x="410" y="24" width="1" height="9"/><rect x="433" y="440" width="1" height="5"/><rect x="433" y="24" width="1" height="5"/><rect x="457" y="440" width="1" height="5"/><rect x="457" y="24" width="1" height="5"/><rect x="481" y="440" width="1" height="5"/><rect x="481" y="24" width="1" height="5"/><rect x="505" y="440" width="1" height="5"/><rect x="505" y="24" width="1" height="5"/><rect x="529" y="436" width="1" height="9"/><rect x="529" y="24" width="1" height="9"/><rect x="552" y="440" width="1" height="5"/><rect x="552" y="24" width="1" height="5"/><rect x="576" y="440" width="1" height="5"/><rect x="576" y="24" width="1" height="5"/><rect x="600" y="440" width="1" height="5"/><rect x="600" y="24" width="1" height="5"/><rect x="624" y="440" width="1" height="5"/><rect x="624" y="24" width="1" height="5"/><rect x="52" y="412" width="7" height="1"/><rect x="618" y="412" width="7" height="1"/><rect x="52" y="394" width="7" height="1"/><rect x="618" y="394" width="7" height="1"/><rect x="52" y="381" width="7" height="1"/><rect x="618" y="381" width="7" height="1"/><rect x="52" y="371" width="7" height="1"/><rect x="618" y="371" width="7" height="1"/><rect x="52" y="362" width="7" height="1"/><rect x="618" y="362" width="7" height="1"/><rect x="52" y="355" width="7" height="1"/><rect x="618" y="355" width="7" height="1"/><rect x="52" y="349" width="7" height="1"/><rect x="618" y="349" width="7" height="1"/><rect x="52" y="344" width="7" height="1"/><rect x="618" y="344" width="7" height="1"/><rect x="52" y="307" width="7" height="1"/><rect x="618" y="307" width="7" height="1"/><rect x="52" y="289" width="7" height="1"/><rect x="618" y="289" width="7" height="1"/><rect x="52" y="276" width="7" height="1"/><rect x="618" y="276" width="7" height="1"/><rect x="52" y="266" width="7" height="1"/><rect x="618" y="266" width="7" height="1"/><rect x="52" y="257" width="7" height="1"/><rect x="618" y="257" width="7" height="1"/><rect x="52" y="250" width="7" height="1"/><rect x="618" y="250" width="7" height="1"/><rect x="52" y="244" width="7" height="1"/><rect x="618" y="244" width="7" height="1"/><rect x="52" y="239" width="7" height="1"/><rect x="618" y="239" width="7" height="1"/><rect x="52" y="202" width="7" height="1"/><rect x="618" y="202" width="7" height="1"/><rect x="52" y="184" width="7" height="1"/><rect x="618" y="184" width="7" height="1"/><rect x="52" y="171" width="7" height="1"/><rect x="618" y="171" width="7" height="1"/><rect x="52" y="161" width="7" height="1"/><rect x="618" y="161" width="7" height="1"/><rect x="52" y="152" width="7" height="1"/><rect x="618" y="152" width="7" height="1"/><rect x="52" y="145" width="7" height="1"/><rect x="618" y="145" width="7" height="1"/><rect x="52" y="139" width="7" height="1"/><rect x="618" y="139" width="7" height="1"/><rect x="52" y="134" width="7" height="1"/><rect x="618" y="134" width="7" height="1"/><rect x="52" y="97" width="7" height="1"/><rect x="618" y="97" width="7" height="1"/><rect x="52" y="79" width="7" height="1"/><rect x="618" y="79" width="7" height="1"/><rect x="52" y="66" width="7" height="1"/><rect x="618" y="66" width="7" height="1"/><rect x="52" y="56" width="7" height="1"/><rect x="618" y="56" width="7" height="1"/><rect x="52" y="47" width="7" height="1"/><rect x="618" y="47" width="7" height="1"/><rect x="52" y="40" width="7" height="1"/><rect x="618" y="40" width="7" height="1"/><rect x="52" y="34" width="7" height="1"/><rect x="618" y="34" width="7" height="1"/><rect x="52" y="29" width="7" height="1"/><rect x="618" y="29" width="7" height="1"/>
</g>
<g style="filter:grayscale(1)">
<text stroke="#000" stroke-width="0.1" x="158.24" y="19.8" font-size="14.0" textLength="30.96" lengthAdjust="spacingAndGlyphs">GOES</text>
<text stroke="#000" stroke-width="0.1" x="195.90" y="19.8" font-size="14.0" textLength="67.99" lengthAdjust="spacingAndGlyphs">0.1−0.8nm</text>
<text stroke="#000" stroke-width="0.1" x="271.79" y="19.8" font-size="14.0" textLength="33.93" lengthAdjust="spacingAndGlyphs">(red),</text>
<text stroke="#000" stroke-width="0.1" x="311.81" y="19.8" font-size="14.0" textLength="28.63" lengthAdjust="spacingAndGlyphs">LYRA</text>
<text stroke="#000" stroke-width="0.1" x="346.91" y="19.8" font-size="14.0" textLength="10.22" lengthAdjust="spacingAndGlyphs">Al</text>
<text stroke="#000" stroke-width="0.1" x="364.91" y="19.8" font-size="14.0" textLength="34.21" lengthAdjust="spacingAndGlyphs">(blue)</text>
<text stroke="#000" stroke-width="0.1" x="406.83" y="19.8" font-size="14.0" textLength="9.52" lengthAdjust="spacingAndGlyphs">&amp;</text>
<text stroke="#000" stroke-width="0.1" x="423.75" y="19.8" font-size="14.0" textLength="13.10" lengthAdjust="spacingAndGlyphs">Zr</text>
<text stroke="#000" stroke-width="0.1" x="444.17" y="19.8" font-size="14.0" textLength="34.85" lengthAdjust="spacingAndGlyphs">(grey)</text>
<text stroke="#000" stroke-width="0.1" x="486.80" y="19.8" font-size="14.0" textLength="31.57" lengthAdjust="spacingAndGlyphs">proxy</text>
<text stroke="#000" stroke-width="0.25" x="49.03" y="457.9" font-size="9.6" textLength="6.03" lengthAdjust="spacingAndGlyphs">0</text>
<text stroke="#000" stroke-width="0.25" x="168.18" y="457.9" font-size="9.6" textLength="6.42" lengthAdjust="spacingAndGlyphs">5</text>
<text stroke="#000" stroke-width="0.25" x="284.77" y="457.9" font-size="9.6" textLength="11.37" lengthAdjust="spacingAndGlyphs">10</text>
<text stroke="#000" stroke-width="0.25" x="404.29" y="457.9" font-size="9.6" textLength="11.77" lengthAdjust="spacingAndGlyphs">15</text>
<text stroke="#000" stroke-width="0.25" x="522.40" y="457.9" font-size="9.6" textLength="12.40" lengthAdjust="spacingAndGlyphs">20</text>
<text stroke="#000" stroke-width="0.25" x="265.71" y="470" font-size="9.8" textLength="23.44" lengthAdjust="spacingAndGlyphs">Time</text>
<text stroke="#000" stroke-width="0.25" x="306.58" y="470" font-size="9.8" textLength="4.73" lengthAdjust="spacingAndGlyphs">h</text>
<text stroke="#000" stroke-width="0.25" x="317.93" y="470" font-size="9.8" textLength="21.25" lengthAdjust="spacingAndGlyphs">UTC,</text>
<text stroke="#000" stroke-width="0.25" x="344.10" y="470" font-size="9.8" textLength="12.06" lengthAdjust="spacingAndGlyphs">07</text>
<text stroke="#000" stroke-width="0.25" x="361.62" y="470" font-size="9.8" textLength="17.55" lengthAdjust="spacingAndGlyphs">Sep</text>
<text stroke="#000" stroke-width="0.25" x="384.61" y="470" font-size="9.8" textLength="25.81" lengthAdjust="spacingAndGlyphs">2023</text>
<text stroke="#000" stroke-width="0.25" x="488.50" y="494.5" font-size="9.8" textLength="19.72" lengthAdjust="spacingAndGlyphs">ROB</text>
<text stroke="#000" stroke-width="0.25" x="516.87" y="494.5" font-size="9.8" textLength="26.26" lengthAdjust="spacingAndGlyphs">SIDC,</text>
<text stroke="#000" stroke-width="0.25" x="549.50" y="494.5" font-size="9.8" textLength="45.39" lengthAdjust="spacingAndGlyphs">Brussels,</text>
<text stroke="#000" stroke-width="0.25" x="601.75" y="494.5" font-size="9.8" textLength="40.74" lengthAdjust="spacingAndGlyphs">Belgium</text>
<text stroke="#000" stroke-width="0.25" x="632.02" y="80" font-size="11.3" textLength="6.22" lengthAdjust="spacingAndGlyphs">M</text>
<text stroke="#000" stroke-width="0.25" x="631.88" y="185" font-size="11.3" textLength="6.59" lengthAdjust="spacingAndGlyphs">C</text>
<text stroke="#000" stroke-width="0.25" x="631.42" y="290" font-size="11.3" textLength="7.12" lengthAdjust="spacingAndGlyphs">B</text>
<text stroke="#000" stroke-width="0.25" x="631.22" y="395" font-size="11.3" textLength="6.16" lengthAdjust="spacingAndGlyphs">A</text>
<text stroke="#000" stroke-width="0.4" x="33.71" y="30.2" font-size="8.4" textLength="8.04" lengthAdjust="spacingAndGlyphs">10</text>
<text stroke="#000" stroke-width="0.4" x="42.80" y="26.2" font-size="5.6" textLength="7.23" lengthAdjust="spacingAndGlyphs">−4</text>
<text stroke="#000" stroke-width="0.4" x="33.71" y="132.6" font-size="8.4" textLength="8.04" lengthAdjust="spacingAndGlyphs">10</text>
<text stroke="#000" stroke-width="0.4" x="42.85" y="128.6" font-size="5.6" textLength="7.07" lengthAdjust="spacingAndGlyphs">−5</text>
<text stroke="#000" stroke-width="0.4" x="33.71" y="237.6" font-size="8.4" textLength="8.04" lengthAdjust="spacingAndGlyphs">10</text>
<text stroke="#000" stroke-width="0.4" x="42.85" y="233.6" font-size="5.6" textLength="7.08" lengthAdjust="spacingAndGlyphs">−6</text>
<text stroke="#000" stroke-width="0.4" x="33.71" y="342.6" font-size="8.4" textLength="8.04" lengthAdjust="spacingAndGlyphs">10</text>
<text stroke="#000" stroke-width="0.4" x="42.75" y="338.6" font-size="5.6" textLength="8.01" lengthAdjust="spacingAndGlyphs">−7</text>
<text stroke="#000" stroke-width="0.4" x="33.71" y="445.2" font-size="8.4" textLength="8.04" lengthAdjust="spacingAndGlyphs">10</text>
<text stroke="#000" stroke-width="0.4" x="42.82" y="441.2" font-size="5.6" textLength="7.03" lengthAdjust="spacingAndGlyphs">−8</text>
<text stroke="#000" stroke-width="0.4" transform="translate(26.2,288.53) rotate(-90)" font-size="7.8" textLength="19.92" lengthAdjust="spacingAndGlyphs">GOES</text>
<text stroke="#000" stroke-width="0.4" transform="translate(26.2,264.93) rotate(-90)" font-size="7.8" textLength="38.95" lengthAdjust="spacingAndGlyphs">Irradiance</text>
<text stroke="#000" stroke-width="0.4" transform="translate(26.2,212.48) rotate(-90)" font-size="7.8" textLength="10.79" lengthAdjust="spacingAndGlyphs">(W</text>
<text stroke="#000" stroke-width="0.4" transform="translate(26.2,198.20) rotate(-90)" font-size="7.8" textLength="7.86" lengthAdjust="spacingAndGlyphs">m</text>
<text stroke="#000" stroke-width="0.4" transform="translate(22.2,190.68) rotate(-90)" font-size="5.2" textLength="6.98" lengthAdjust="spacingAndGlyphs">−2</text>
<text stroke="#000" stroke-width="0.4" transform="translate(26.2,183.68) rotate(-90)" font-size="7.8" textLength="3.83" lengthAdjust="spacingAndGlyphs">)</text>
<line x1="294.5" y1="472.6" x2="300.9" y2="460.8" stroke="#000" stroke-width="1"/>
<line x1="508.9" y1="497.0" x2="515.3" y2="486.2" stroke="#000" stroke-width="1"/>
<line x1="28.0" y1="221.6" x2="18.8" y2="216.0" stroke="#000" stroke-width="1"/>
</g>
</svg>
</body></html>
